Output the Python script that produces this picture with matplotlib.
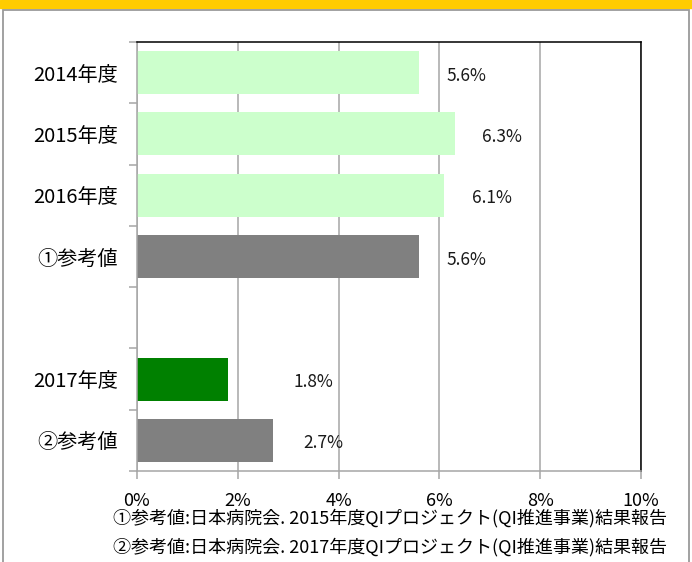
import numpy as np, matplotlib
matplotlib.use("Agg")
import matplotlib.pyplot as plt
from matplotlib.patches import Rectangle

plt.rcParams["font.family"] = ["Noto Sans CJK JP", "DejaVu Sans"]

categories = ["2014年度", "2015年度", "2016年度", "①参考値", "", "2017年度", "②参考値"]
values = [5.6, 6.3, 6.1, 5.6, None, 1.8, 2.7]
labels = ["5.6%", "6.3%", "6.1%", "5.6%", None, "1.8%", "2.7%"]
colors = ["#CCFFCC", "#CCFFCC", "#CCFFCC", "#808080", None, "#008000", "#808080"]
label_gap = [0.55, 0.55, 0.55, 0.55, None, 1.3, 0.6]  # manual label offsets (in %)
xticks = [0, 2, 4, 6, 8, 10]
notes = ["①参考値:日本病院会. 2015年度QIプロジェクト(QI推進事業)結果報告",
         "②参考値:日本病院会. 2017年度QIプロジェクト(QI推進事業)結果報告"]

W, H = 692, 562
fig = plt.figure(figsize=(W / 100, H / 100), dpi=100)
# frame: orange band on top, grey outline
fig.patches.append(Rectangle((0, 1 - 8 / H), 1, 8 / H, transform=fig.transFigure,
                             color="#FFCC00", zorder=0))
fig.patches.append(Rectangle((2.5 / W, -0.01), 686.5 / W, 1 - 9.5 / H + 0.01, transform=fig.transFigure,
                             fill=False, ec="#9a9a9a", lw=1.3, zorder=1))

ax = fig.add_axes([137 / W, 1 - 471 / H, (641 - 137) / W, (471 - 42) / H])
ypos = np.arange(len(categories))
for i, v in enumerate(values):
    if v is None:
        continue
    ax.barh(ypos[i], v, height=0.7, color=colors[i], zorder=2)
    ax.text(v + label_gap[i], ypos[i] + 0.05, labels[i], fontsize=12.5, va="center", ha="left",
            color="#1a1a1a", zorder=3)

ax.set_xlim(0, 10)
ax.set_ylim(len(categories) - 0.5, -0.5)
ax.set_xticks(xticks)
ax.set_xticklabels([f"{t}%" for t in xticks], fontsize=13)
ax.xaxis.grid(True, color="#a6a6a6", lw=1.1, zorder=1)
ax.set_axisbelow(True)
ax.set_yticks(np.arange(len(categories) + 1) - 0.5)
ax.set_yticklabels([])
ax.set_yticks(ypos, minor=True)
ax.set_yticklabels(categories, minor=True, fontsize=14.5)
ax.tick_params(axis="y", which="major", length=6, width=1.1, color="#a6a6a6")
ax.tick_params(axis="y", which="minor", length=0, pad=13.5)
ax.tick_params(axis="x", length=6, width=1.1, color="#a6a6a6", pad=9)
for s in ("left", "bottom"):
    ax.spines[s].set_color("#a6a6a6")
    ax.spines[s].set_linewidth(1.1)
for s in ("top", "right"):
    ax.spines[s].set_color("black")
    ax.spines[s].set_linewidth(1.1)

fig.text(390 / W, 1 - 518 / H, notes[0], fontsize=13, ha="center", va="center")
fig.text(390 / W, 1 - 547 / H, notes[1], fontsize=13, ha="center", va="center")

fig.savefig("out.png", dpi=100, facecolor="white")
